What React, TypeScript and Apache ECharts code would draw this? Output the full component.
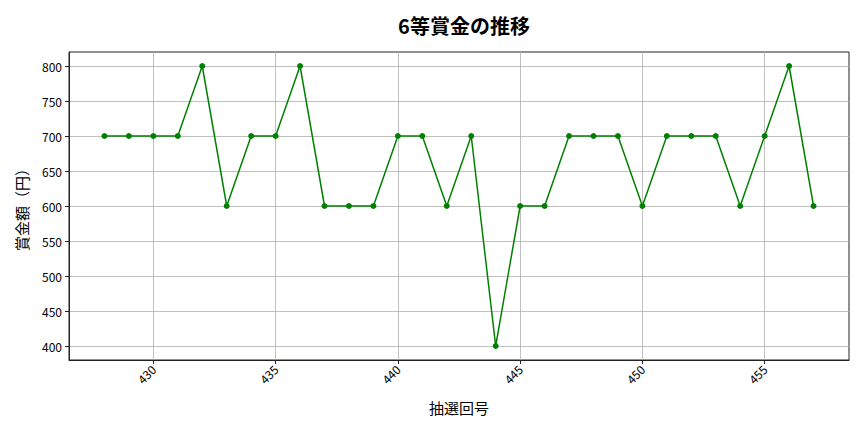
import React, { useRef, useEffect } from 'react';
import * as echarts from 'echarts';

const rounds = [428, 429, 430, 431, 432, 433, 434, 435, 436, 437, 438, 439, 440, 441, 442, 443, 444, 445, 446, 447, 448, 449, 450, 451, 452, 453, 454, 455, 456, 457];
const prizes = [700, 700, 700, 700, 800, 600, 700, 700, 800, 600, 600, 600, 700, 700, 600, 700, 400, 600, 600, 700, 700, 700, 600, 700, 700, 700, 600, 700, 800, 600];
const xTicks = [430, 435, 440, 445, 450, 455];
const yTicks = [400, 450, 500, 550, 600, 650, 700, 750, 800];

const FONT = '"Noto Sans CJK JP", "Noto Sans", sans-serif';

const App: React.FC = () => {
  const chartRef = useRef<HTMLDivElement>(null);

  useEffect(() => {
    if (!chartRef.current) return;
    const chart = echarts.init(chartRef.current, undefined, { renderer: 'svg' });

    const option = {
      animation: false,
      backgroundColor: '#ffffff',
      title: {
        text: '6等賞金の推移',
        left: 459,
        textAlign: 'center',
        top: 10,
        textStyle: { fontFamily: FONT, fontSize: 20, fontWeight: 'bold', color: '#000' }
      },
      grid: { left: 69, right: 15, top: 52, bottom: 72, show: true, borderColor: '#222', borderWidth: 1 },
      xAxis: {
        type: 'value',
        min: 426.55,
        max: 458.45,
        name: '抽選回号',
        nameLocation: 'middle',
        nameGap: 40,
        nameTextStyle: { fontFamily: FONT, fontSize: 15, color: '#000' },
        axisLine: { show: true, lineStyle: { color: '#222' } },
        axisTick: { show: true, customValues: xTicks, length: 4, lineStyle: { color: '#222' } },
        axisLabel: {
          customValues: xTicks,
          rotate: 45,
          fontFamily: FONT,
          fontSize: 12,
          color: '#000',
          margin: 7
        },
        splitLine: { show: true, lineStyle: { color: '#b0b0b0', width: 0.8 } }
      },
      yAxis: {
        type: 'value',
        min: 380,
        max: 820,
        name: '賞金額（円）',
        nameLocation: 'middle',
        nameGap: 40,
        nameRotate: 90,
        nameTextStyle: { fontFamily: FONT, fontSize: 15, color: '#000' },
        axisLine: { show: true, lineStyle: { color: '#222' } },
        axisTick: { show: true, customValues: yTicks, length: 4, lineStyle: { color: '#222' } },
        axisLabel: { customValues: yTicks, fontFamily: FONT, fontSize: 12, color: '#000', margin: 7 },
        splitLine: { show: true, lineStyle: { color: '#b0b0b0', width: 0.8 } }
      },
      series: [
        {
          type: 'line',
          data: rounds.map((r, i) => [r, prizes[i]]),
          symbol: 'circle',
          symbolSize: 6,
          lineStyle: { color: '#008000', width: 1.5 },
          itemStyle: { color: '#008000' }
        }
      ]
    };

    chart.setOption(option);
    return () => chart.dispose();
  }, []);

  return (
    <div
      ref={chartRef}
      style={{ position: 'fixed', left: 0, top: 0, width: 864, height: 432 }}
    />
  );
};

export default App;
